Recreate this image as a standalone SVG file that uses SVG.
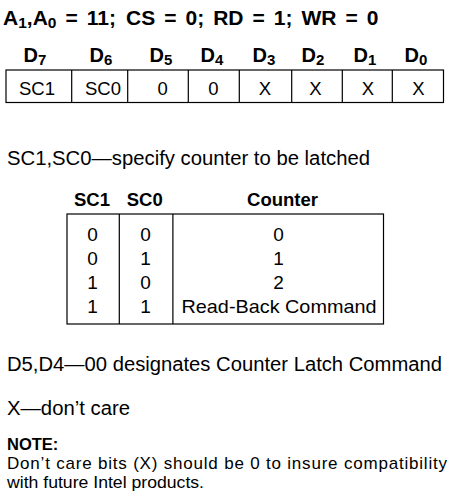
<svg xmlns="http://www.w3.org/2000/svg" width="450" height="499" viewBox="0 0 450 499">
<style>
.t{font-family:"Liberation Sans",Arial,sans-serif;fill:#000}
.b{font-weight:bold}
.ln{fill:none;stroke:#000;stroke-width:1.2}
.c{text-anchor:middle}
</style>
<rect width="450" height="499" fill="#fff"/>
<g id="title" class="t b" font-size="21">
<text y="25"><tspan x="3">A</tspan><tspan font-size="15.5" dy="3">1</tspan><tspan dy="-3">,A</tspan><tspan font-size="15.5" dy="3">0</tspan></text>
<text y="25" x="65.4">=</text>
<text y="25" x="86.7">11;</text>
<text y="25" x="126">CS</text>
<text y="25" x="164.2">=</text>
<text y="25" x="185.5">0;</text>
<text y="25" x="213.2">RD</text>
<text y="25" x="252.5">=</text>
<text y="25" x="273.8">1;</text>
<text y="25" x="301.5">WR</text>
<text y="25" x="345.5">=</text>
<text y="25" x="366.8">0</text>
</g>
<g id="bit-labels" class="t b c" font-size="20">
<text x="35" y="61.5">D<tspan font-size="15" dy="3">7</tspan></text>
<text x="101" y="61.5">D<tspan font-size="15" dy="3">6</tspan></text>
<text x="161" y="61.5">D<tspan font-size="15" dy="3">5</tspan></text>
<text x="212" y="61.5">D<tspan font-size="15" dy="3">4</tspan></text>
<text x="264" y="61.5">D<tspan font-size="15" dy="3">3</tspan></text>
<text x="313" y="61.5">D<tspan font-size="15" dy="3">2</tspan></text>
<text x="365" y="61.5">D<tspan font-size="15" dy="3">1</tspan></text>
<text x="416" y="61.5">D<tspan font-size="15" dy="3">0</tspan></text>
</g>
<g id="register">
<rect class="ln" x="6" y="70" width="437.5" height="32.5"/>
<path class="ln" d="M71.7 70V102.5M127.7 70V102.5M188.3 70V102.5M239.3 70V102.5M291.7 70V102.5M342.3 70V102.5M392.3 70V102.5"/>
<g class="t c" font-size="18.5">
<text x="37" y="95">SC1</text>
<text x="103" y="95">SC0</text>
<text x="162.7" y="95">0</text>
<text x="213.3" y="95">0</text>
<text x="265" y="95">X</text>
<text x="315.5" y="95">X</text>
<text x="368" y="95">X</text>
<text x="418.3" y="95">X</text>
</g>
</g>
<g id="sc-desc" class="t" font-size="20">
<text x="7" y="165" textLength="363" lengthAdjust="spacingAndGlyphs">SC1,SC0—specify counter to be latched</text>
</g>
<g id="counter-table">
<g class="t b c" font-size="18.5">
<text x="92" y="206">SC1</text>
<text x="144.7" y="206">SC0</text>
<text x="282.5" y="206">Counter</text>
</g>
<rect class="ln" x="67" y="214" width="316.5" height="110"/>
<path class="ln" d="M119.3 214V324M172.9 214V324"/>
<g class="t c" font-size="19">
<text x="92.5" y="241">0</text><text x="145.5" y="241">0</text><text x="278.5" y="241">0</text>
<text x="92.5" y="265">0</text><text x="145.5" y="265">1</text><text x="278.5" y="265">1</text>
<text x="92.5" y="289">1</text><text x="145.5" y="289">0</text><text x="278.5" y="289">2</text>
<text x="92.5" y="313">1</text><text x="145.5" y="313">1</text><text x="279" y="313" textLength="195" lengthAdjust="spacingAndGlyphs">Read-Back Command</text>
</g>
</g>
<g id="d5d4-desc" class="t" font-size="20">
<text x="7" y="370.5" textLength="435" lengthAdjust="spacingAndGlyphs">D5,D4—00 designates Counter Latch Command</text>
</g>
<g id="x-desc" class="t" font-size="20">
<text x="7" y="415" textLength="123" lengthAdjust="spacingAndGlyphs">X—don’t care</text>
</g>
<g id="note" class="t">
<text class="b" x="7" y="450" font-size="16.5">NOTE:</text>
<text x="7" y="469" font-size="17" textLength="440" lengthAdjust="spacing">Don’t care bits (X) should be 0 to insure compatibility</text>
<text x="7" y="488" font-size="17" textLength="197" lengthAdjust="spacingAndGlyphs">with future Intel products.</text>
</g>
</svg>
